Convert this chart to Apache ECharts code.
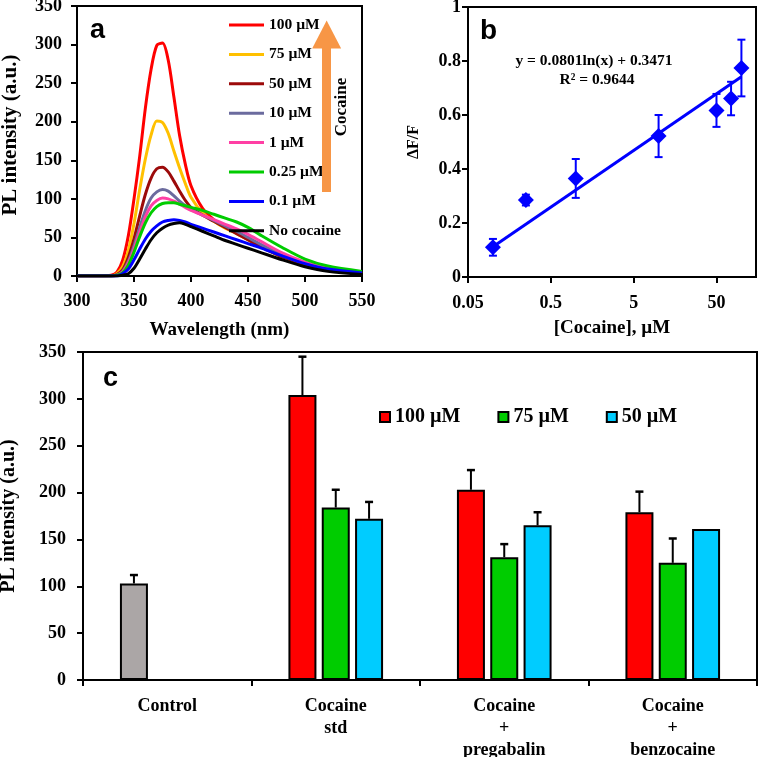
<!DOCTYPE html>
<html><head><meta charset="utf-8">
<script src="https://cdn.jsdelivr.net/npm/echarts@6/dist/echarts.min.js"></script>
<style>html,body{margin:0;padding:0;background:#fff}#c{width:759px;height:757px}</style>
</head><body><div id="c"></div>
<script>
// ---------- Panel a: PL spectra ----------
const wavelengths = [300, 320, 330, 335, 340, 345, 350, 355, 360, 365, 370, 375, 380, 385, 390, 395, 400, 410, 420, 430, 440, 450, 460, 480, 500, 520, 550];
const pl100 = [0, 0, 1, 5, 20, 52, 100, 155, 218, 268, 299, 302, 280, 232, 182, 145, 117, 88, 73, 63, 56, 47, 39, 25, 14, 8, 3];
const pl75  = [0, 0, 0, 3, 12, 33, 68, 112, 152, 183, 201, 199, 185, 162, 140, 120, 102, 82, 71, 62, 55, 47, 39, 25, 15, 8, 3];
const pl50  = [0, 0, 0, 2, 8, 24, 48, 78, 106, 127, 139, 141, 135, 123, 110, 98, 89, 79, 71, 63, 55, 47, 39, 25, 15, 8, 3];
const pl10  = [0, 0, 0, 1, 6, 19, 39, 63, 85, 101, 109, 112, 110, 104, 97, 91, 86, 79, 72, 65, 58, 50, 42, 27, 16, 9, 4];
const pl1   = [0, 0, 0, 1, 5, 17, 35, 57, 77, 91, 98, 101, 100, 97, 93, 89, 85, 79, 73, 67, 61, 54, 46, 30, 18, 10, 4];
const pl025 = [0, 0, 0, 1, 4, 14, 31, 51, 69, 82, 90, 94, 95, 95, 93, 91, 89, 85, 80, 75, 70, 63, 54, 37, 22, 13, 6];
const pl01  = [0, 0, 0, 0, 3, 9, 21, 35, 48, 58, 65, 70, 72, 73, 72, 70, 67, 62, 57, 52, 47, 42, 37, 26, 16, 9, 4];
const pl0   = [0, 0, 0, 0, 1, 3, 10, 22, 35, 47, 56, 62, 66, 68, 69, 67, 64, 58, 52, 46, 41, 36, 31, 21, 12, 6, 2];
const namesA = ['100 µM', '75 µM', '50 µM', '10 µM', '1 µM', '0.25 µM', '0.1 µM', 'No cocaine'];
const colorsA = ['#FF0000', '#FFC000', '#9C0A0A', '#6B6B9E', '#FF3FA4', '#00CC00', '#0000FF', '#000000'];
const seriesA = [pl100, pl75, pl50, pl10, pl1, pl025, pl01, pl0];
// annotation arrow (data coords of panel a)
const arrowFrom = [519, 109];
const arrowTo = [519, 313];

// ---------- Panel b: calibration ----------
const concB = [0.1, 0.25, 1, 10, 50, 75, 100];
const ratioB = [0.11, 0.285, 0.365, 0.522, 0.617, 0.661, 0.774];
const errB = [0.031, 0.02, 0.072, 0.078, 0.061, 0.062, 0.105];
const trendConc = [0.1, 100];
const trendRatio = [0.112, 0.742];
const B_UNIT = 0.05; // log axis counted in units of 0.05 µM so ticks fall on 0.05, 0.5, 5, 50
const B_MAX = 150;

// ---------- Panel c: bars ----------
const categoriesC = ['Control', 'Cocaine\nstd', 'Cocaine\n+\npregabalin', 'Cocaine\n+\nbenzocaine'];
const namesC = ['100 µM', '75 µM', '50 µM'];
const c100 = [103, 304, 203, 179];
const c100Err = [9, 41, 21, 22];
const c75 = [null, 184, 131, 125];
const c75Err = [null, 19, 14, 26];
const c50 = [null, 172, 165, 161];
const c50Err = [null, 18, 14, null];
const colorsC = ['#FF0000', '#00CC00', '#00CCFF'];
const controlColor = '#ABA6A6';

const SERIF = '"Liberation Serif", "Times New Roman", serif';
const SANS = '"Liberation Sans", Arial, sans-serif';
const BAR_W = 28, BAR_GAP = 0.19;

function axisCommon(extra) {
  return Object.assign({
    axisLine: { show: true, onZero: false, lineStyle: { color: '#000', width: 2 } },
    axisTick: { show: true, inside: false, length: 6, lineStyle: { color: '#000', width: 2 } },
    splitLine: { show: false },
    minorTick: { show: false },
    axisLabel: { color: '#000', fontFamily: SERIF, fontWeight: 'bold', fontSize: 18 },
    nameTextStyle: { color: '#000', fontFamily: SERIF, fontWeight: 'bold', fontSize: 19 }
  }, extra);
}

const chart = echarts.init(document.getElementById('c'), null, { renderer: 'canvas' });

const series = [];
seriesA.forEach((arr, k) => {
  series.push({
    name: namesA[k], type: 'line', xAxisIndex: 0, yAxisIndex: 0,
    data: wavelengths.map((w, i) => [w, arr[i]]),
    symbol: 'none', smooth: 0.3, silent: true,
    lineStyle: { width: 3, color: colorsA[k] }, itemStyle: { color: colorsA[k] }
  });
});
series.push({
  type: 'line', xAxisIndex: 0, yAxisIndex: 0, data: [], silent: true,
  markLine: {
    silent: true, symbol: ['none', 'triangle'], symbolSize: [29, 28],
    lineStyle: { color: '#F79646', width: 9, type: 'solid', cap: 'butt' },
    label: { show: false },
    data: [[{ coord: arrowFrom }, { coord: arrowTo }]]
  }
});
// panel b
series.push({
  type: 'line', xAxisIndex: 1, yAxisIndex: 1, symbol: 'none', silent: true,
  data: trendConc.map((c, i) => [c / B_UNIT, trendRatio[i]]),
  lineStyle: { color: '#0000FF', width: 3 }
});
series.push({
  type: 'custom', xAxisIndex: 1, yAxisIndex: 1, silent: true,
  encode: { x: 0, y: [1, 2] },
  data: concB.map((c, i) => [c / B_UNIT, ratioB[i] - errB[i], ratioB[i] + errB[i]]),
  renderItem: function (params, api) {
    const lo = api.coord([api.value(0), api.value(1)]);
    const hi = api.coord([api.value(0), api.value(2)]);
    const st = { stroke: '#0000FF', lineWidth: 2 };
    return { type: 'group', children: [
      { type: 'line', shape: { x1: lo[0], y1: lo[1], x2: hi[0], y2: hi[1] }, style: st },
      { type: 'line', shape: { x1: lo[0] - 4, y1: lo[1], x2: lo[0] + 4, y2: lo[1] }, style: st },
      { type: 'line', shape: { x1: hi[0] - 4, y1: hi[1], x2: hi[0] + 4, y2: hi[1] }, style: st }
    ]};
  }
});
series.push({
  type: 'scatter', xAxisIndex: 1, yAxisIndex: 1, symbol: 'diamond', symbolSize: 16, silent: true,
  data: concB.map((c, i) => [c / B_UNIT, ratioB[i]]),
  itemStyle: { color: '#0000FF', opacity: 1 }
});
// panel c
const valsC = [c100, c75, c50], errsC = [c100Err, c75Err, c50Err];
valsC.forEach((vals, s) => {
  series.push({
    name: 'C' + namesC[s], type: 'bar', xAxisIndex: 2, yAxisIndex: 2, silent: true,
    barWidth: BAR_W, barGap: (BAR_GAP * 100) + '%',
    itemStyle: { color: colorsC[s], borderColor: '#000', borderWidth: 2 },
    data: vals.map((v, i) => (s === 0 && i === 0) ? { value: v, itemStyle: { color: controlColor } } : v)
  });
});
valsC.forEach((vals, s) => {
  series.push({
    type: 'custom', xAxisIndex: 2, yAxisIndex: 2, silent: true, z: 5,
    encode: { x: 0, y: 1 },
    data: vals.map((v, i) => (v == null || errsC[s][i] == null) ? null : [i, v, errsC[s][i]]).filter(Boolean),
    renderItem: function (params, api) {
      const base = api.coord([api.value(0), api.value(1)]);
      const top = api.coord([api.value(0), api.value(1) + api.value(2)]);
      const x = base[0] + (s - 1) * BAR_W * (1 + BAR_GAP);
      return { type: 'group', children: [
        { type: 'line', shape: { x1: x, y1: base[1], x2: x, y2: top[1] }, style: { stroke: '#000', lineWidth: 2 } },
        { type: 'line', shape: { x1: x - 4, y1: top[1], x2: x + 4, y2: top[1] }, style: { stroke: '#000', lineWidth: 2.5 } }
      ]};
    }
  });
});

const option = {
  animation: false,
  backgroundColor: '#fff',
  grid: [
    { left: 77, top: 6, width: 285, height: 270, show: true, borderColor: '#000', borderWidth: 2, backgroundColor: 'transparent', containLabel: false, outerBoundsMode: 'none' },
    { left: 468, top: 7, width: 288, height: 270, show: true, borderColor: '#000', borderWidth: 2, backgroundColor: 'transparent', containLabel: false, outerBoundsMode: 'none' },
    { left: 83, top: 352, width: 674, height: 328, show: true, borderColor: '#000', borderWidth: 2, backgroundColor: 'transparent', containLabel: false, outerBoundsMode: 'none' }
  ],
  xAxis: [
    axisCommon({ gridIndex: 0, type: 'value', min: 300, max: 550, interval: 50, position: 'bottom',
      name: 'Wavelength (nm)', nameLocation: 'middle', nameGap: 45,
      axisLabel: { color: '#000', fontFamily: SERIF, fontWeight: 'bold', fontSize: 18, margin: 16 } }),
    axisCommon({ gridIndex: 1, type: 'log', logBase: 10, min: 1, max: B_MAX / B_UNIT, position: 'bottom',
      name: '[Cocaine], µM', nameLocation: 'middle', nameGap: 42,
      axisLabel: { color: '#000', fontFamily: SERIF, fontWeight: 'bold', fontSize: 18, margin: 17,
        showMaxLabel: false, formatter: v => String(+(v * B_UNIT).toPrecision(6)) } }),
    axisCommon({ gridIndex: 2, type: 'category', data: categoriesC, position: 'bottom',
      axisTick: { show: true, inside: false, length: 6, alignWithLabel: false, lineStyle: { color: '#000', width: 2 } },
      axisLabel: { color: '#000', fontFamily: SERIF, fontWeight: 'bold', fontSize: 18, margin: 15, lineHeight: 22, interval: 0 } })
  ],
  yAxis: [
    axisCommon({ gridIndex: 0, type: 'value', min: 0, max: 350, interval: 50,
      name: 'PL intensity (a.u.)', nameLocation: 'middle', nameGap: 56,
      nameTextStyle: { color: '#000', fontFamily: SERIF, fontWeight: 'bold', fontSize: 21, padding: [0, 0, 0, 12] },
      axisLabel: { color: '#000', fontFamily: SERIF, fontWeight: 'bold', fontSize: 18, margin: 15 } }),
    axisCommon({ gridIndex: 1, type: 'value', min: 0, max: 1, interval: 0.2,
      name: 'ΔF/F', nameLocation: 'middle', nameGap: 46,
      nameTextStyle: { color: '#000', fontFamily: SERIF, fontWeight: 'bold', fontSize: 16 },
      axisLabel: { color: '#000', fontFamily: SERIF, fontWeight: 'bold', fontSize: 18, margin: 7 } }),
    axisCommon({ gridIndex: 2, type: 'value', min: 0, max: 350, interval: 50,
      name: 'PL intensity (a.u.)', nameLocation: 'middle', nameGap: 64,
      nameTextStyle: { color: '#000', fontFamily: SERIF, fontWeight: 'bold', fontSize: 20 },
      axisLabel: { color: '#000', fontFamily: SERIF, fontWeight: 'bold', fontSize: 18, margin: 17 } })
  ],
  legend: [
    { data: namesA, orient: 'vertical', left: 229, top: 17, padding: 0, itemWidth: 35, itemHeight: 3, itemGap: 13.4,
      icon: 'rect', selectedMode: false,
      textStyle: { color: '#000', fontFamily: SERIF, fontWeight: 'bold', fontSize: 15.5, lineHeight: 14 } },
    { data: namesC.map(n => 'C' + n), orient: 'horizontal', left: 379, top: 407, padding: 0, itemWidth: 10, itemHeight: 10, itemGap: 37,
      icon: 'rect', selectedMode: false, formatter: n => n.slice(1),
      itemStyle: { borderColor: '#000', borderWidth: 2 },
      textStyle: { color: '#000', fontFamily: SERIF, fontWeight: 'bold', fontSize: 20, lineHeight: 20 } }
  ],
  graphic: [
    { type: 'text', x: 90, y: 30.5, style: { text: 'a', font: 'bold 27px ' + SANS, fill: '#000', align: 'left', verticalAlign: 'middle' } },
    { type: 'text', x: 480, y: 31, style: { text: 'b', font: 'bold 28px ' + SANS, fill: '#000', align: 'left', verticalAlign: 'middle' } },
    { type: 'text', x: 103, y: 378.5, style: { text: 'c', font: 'bold 27px ' + SANS, fill: '#000', align: 'left', verticalAlign: 'middle' } },
    { type: 'text', x: 342, y: 107, rotation: Math.PI / 2, style: { text: 'Cocaine', font: 'bold 17px ' + SERIF, fill: '#000', align: 'center', verticalAlign: 'middle' } },
    { type: 'text', x: 594, y: 60.5, style: { text: 'y = 0.0801ln(x) + 0.3471', font: 'bold 15.5px ' + SERIF, fill: '#000', align: 'center', verticalAlign: 'middle' } },
    { type: 'text', x: 597, y: 80, style: { text: 'R² = 0.9644', font: 'bold 15.5px ' + SERIF, fill: '#000', align: 'center', verticalAlign: 'middle' } }
  ],
  series: series
};
chart.setOption(option);
</script></body></html>
